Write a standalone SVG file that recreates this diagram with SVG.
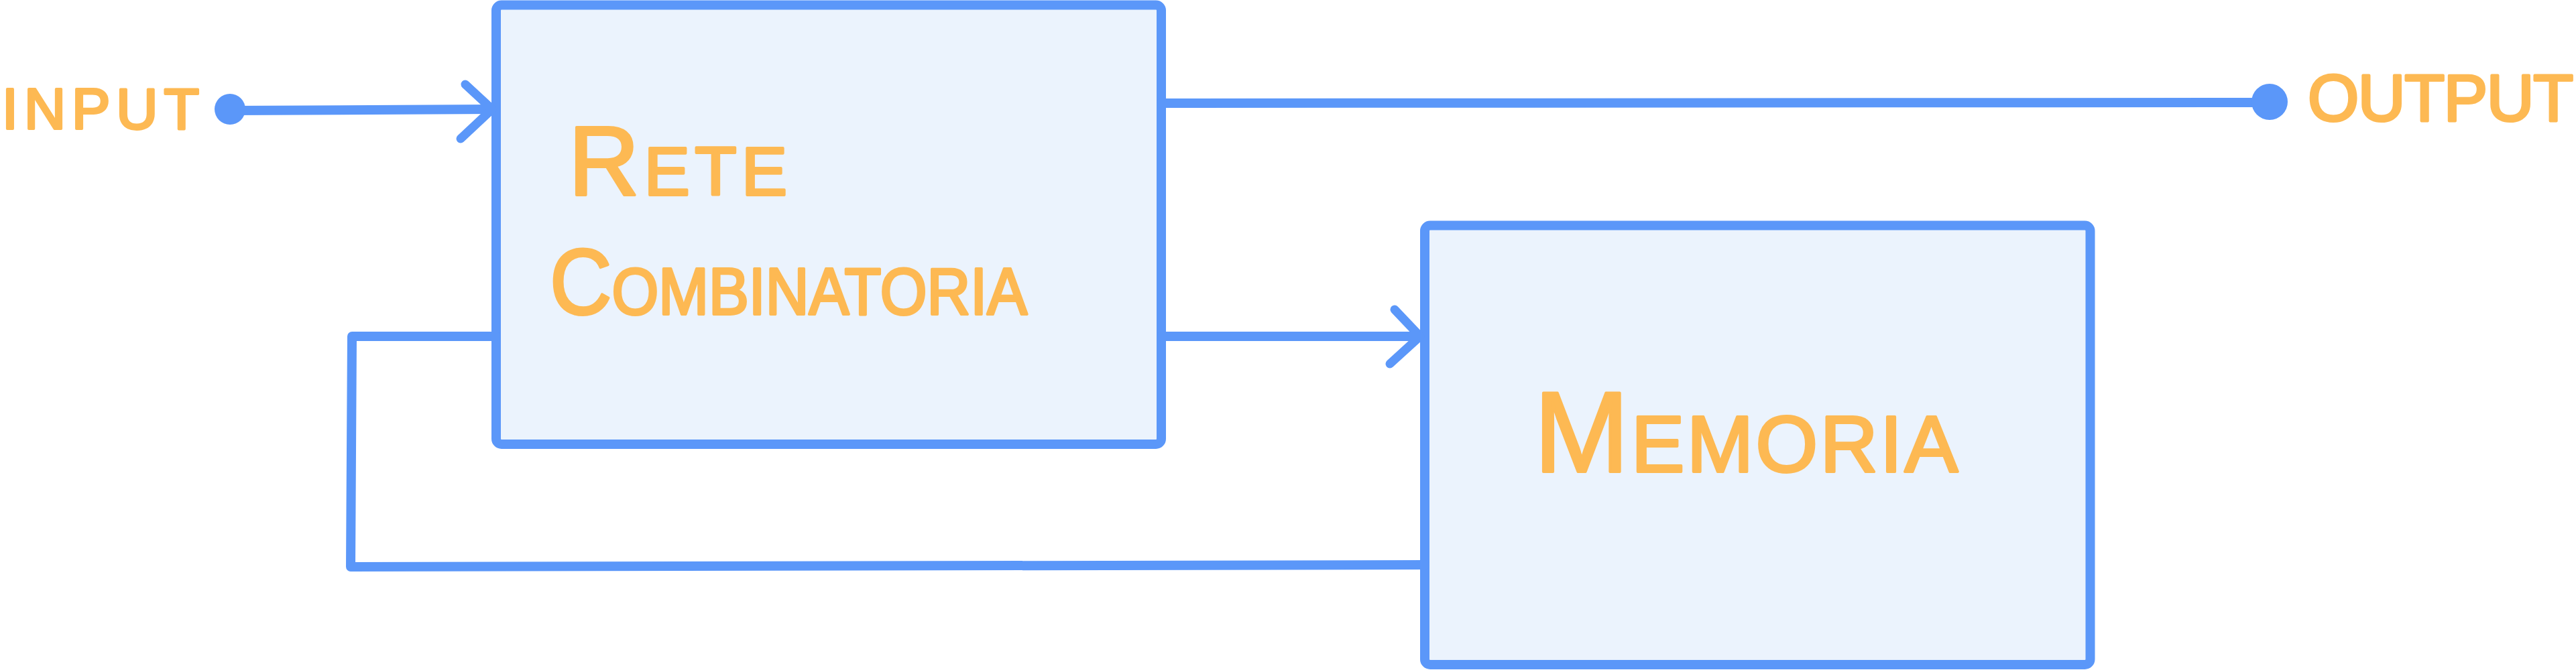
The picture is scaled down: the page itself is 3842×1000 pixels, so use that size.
<svg xmlns="http://www.w3.org/2000/svg" width="3842" height="1000" viewBox="0 0 3842 1000">
<style>
.box{fill:#ebf3fd;stroke:#5b97f9;stroke-width:14;stroke-linejoin:round}
.conn{fill:none;stroke:#5b97f9;stroke-width:14;stroke-linecap:round;stroke-linejoin:round}
.head{fill:none;stroke:#5b97f9;stroke-width:13;stroke-linecap:round;stroke-linejoin:round}
.dot{fill:#5b97f9}
.lbl{fill:#fdb953;stroke:#fdb953;stroke-width:4;stroke-linejoin:round;font-family:"Liberation Sans",Arial,sans-serif;font-variant:small-caps}
</style>
<rect x="0" y="0" width="3842" height="1000" fill="#ffffff"/>
<g id="rete">
<rect class="box" x="740" y="7.5" width="992" height="655.5" rx="8"/>
<text class="lbl" x="848" y="291" font-size="146" textLength="326">Rete</text>
<text class="lbl" x="820" y="469" font-size="140" textLength="712" lengthAdjust="spacingAndGlyphs">Combinatoria</text>
</g>
<g id="memoria">
<rect class="box" x="2125" y="336.5" width="992.5" height="655.5" rx="8"/>
<text class="lbl" x="2288" y="704" font-size="170" textLength="632">Memoria</text>
</g>
<g id="input-label">
<text class="lbl" x="3" y="192" font-size="86" textLength="294">INPUT</text>
</g>
<g id="output-label">
<text class="lbl" x="3442" y="180" font-size="98" textLength="396">OUTPUT</text>
</g>
<g id="connectors">
<path class="conn" d="M343,165 L733,163"/>
<circle class="dot" cx="343" cy="163" r="23"/>
<polyline class="head" points="694,126 734,163 687,207"/>
<path class="conn" d="M1732,154 L3385,153"/>
<circle class="dot" cx="3385" cy="152" r="27"/>
<path class="conn" d="M1732,502 L2117,502"/>
<polyline class="head" points="2080,462 2118,502 2073,543"/>
<polyline class="conn" points="2125,843 523,846 525,502 740,502"/>
</g>
</svg>
